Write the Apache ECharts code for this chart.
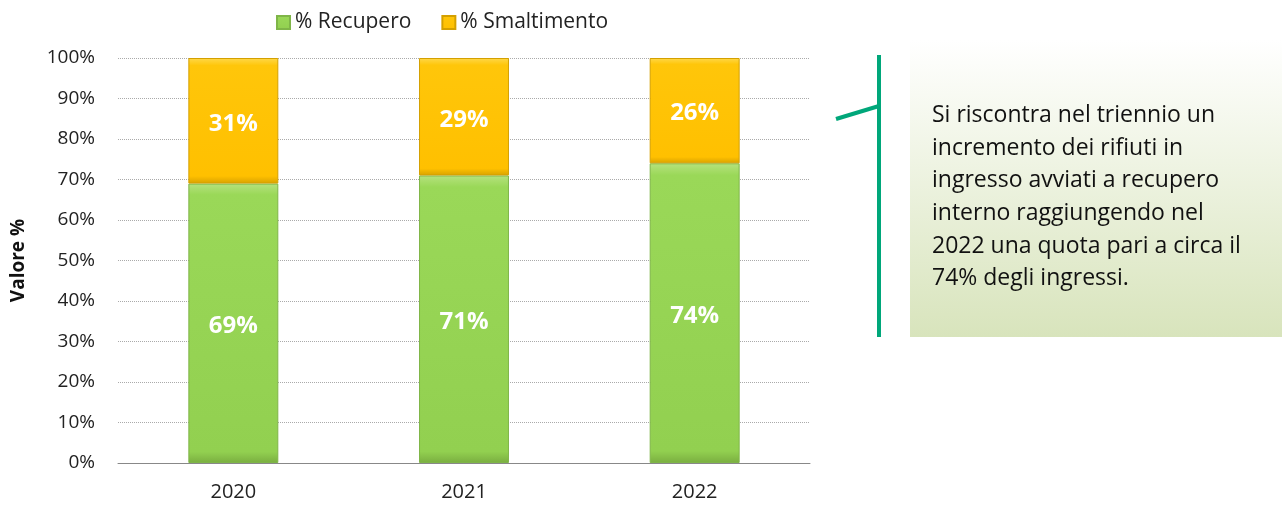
<!DOCTYPE html>
<html>
<head>
<meta charset="utf-8">
<script src="https://cdn.jsdelivr.net/npm/echarts@6/dist/echarts.min.js"></script>
<style>
  html, body { margin: 0; padding: 0; background: #fff; }
  #main { width: 1282px; height: 507px; }
</style>
</head>
<body>
<div id="main"></div>
<script>
var years = ['2020', '2021', '2022'];
var recupero = [69, 71, 74];
var smaltimento = [31, 29, 26];
var yTicks = [0, 10, 20, 30, 40, 50, 60, 70, 80, 90, 100];
var noteLines = [
    'Si riscontra nel triennio un',
    'incremento dei rifiuti in',
    'ingresso avviati a recupero',
    'interno raggiungendo nel',
    '2022 una quota pari a circa il',
    '74% degli ingressi.'
];

var font = '"Open Sans", sans-serif';

var myChart = echarts.init(document.getElementById('main'));

var option = {
    backgroundColor: '#fff',
    textStyle: { fontFamily: font },
    legend: {
        top: 7,
        left: 271,
        itemWidth: 13,
        itemHeight: 13,
        itemGap: 30,
        itemTextGap: 3,
        icon: 'rect',
        textStyle: { fontSize: 21, color: '#222', fontFamily: font },
        data: ['% Recupero', '% Smaltimento']
    },
    grid: { left: 118, right: 472, top: 58, bottom: 44 },
    xAxis: {
        type: 'category',
        data: years,
        axisTick: { show: false },
        axisLine: { lineStyle: { color: '#888' } },
        axisLabel: { fontSize: 20, color: '#222', margin: 19 }
    },
    yAxis: {
        type: 'value',
        min: yTicks[0],
        max: yTicks[yTicks.length - 1],
        interval: 10,
        name: 'Valore %',
        nameLocation: 'middle',
        nameGap: 90,
        nameTextStyle: { fontSize: 19, fontWeight: 'bold', color: '#111' },
        axisLine: { show: false },
        axisTick: { show: false },
        axisLabel: { fontSize: 19, color: '#222', margin: 23, formatter: '{value}%' },
        splitLine: { lineStyle: { color: '#aaa', type: 'dotted' } }
    },
    series: [
        {
            name: '% Recupero',
            type: 'bar',
            stack: 'tot',
            barWidth: '39%',
            data: recupero,
            itemStyle: {
                color: new echarts.graphic.LinearGradient(0, 0, 0, 1, [
                    { offset: 0, color: '#b6e27e' },
                    { offset: 0.04, color: '#9ad858' },
                    { offset: 0.96, color: '#92d050' },
                    { offset: 1, color: '#7aae40' }
                ]),
                borderColor: '#7fb548',
                borderWidth: 1
            },
            label: {
                show: true,
                position: 'inside',
                offset: [0, 3],
                color: '#fff',
                fontSize: 24,
                fontWeight: 'bold',
                formatter: '{c}%'
            }
        },
        {
            name: '% Smaltimento',
            type: 'bar',
            stack: 'tot',
            barWidth: '39%',
            data: smaltimento,
            itemStyle: {
                color: new echarts.graphic.LinearGradient(0, 0, 0, 1, [
                    { offset: 0, color: '#ffd84a' },
                    { offset: 0.06, color: '#ffc60a' },
                    { offset: 0.94, color: '#ffc000' },
                    { offset: 1, color: '#d9a200' }
                ]),
                borderColor: '#d4a000',
                borderWidth: 1
            },
            label: {
                show: true,
                position: 'inside',
                offset: [0, 3],
                color: '#fff',
                fontSize: 24,
                fontWeight: 'bold',
                formatter: '{c}%'
            }
        }
    ],
    graphic: [
        {
            type: 'rect',
            shape: { x: 910, y: 40, width: 372, height: 297 },
            style: {
                fill: new echarts.graphic.LinearGradient(0, 0, 0, 1, [
                    { offset: 0, color: '#ffffff' },
                    { offset: 1, color: '#d8e4bc' }
                ])
            },
            z: 1
        },
        {
            type: 'line',
            shape: { x1: 879, y1: 55, x2: 879, y2: 337 },
            style: { stroke: '#00a77a', lineWidth: 4 }
        },
        {
            type: 'line',
            shape: { x1: 836, y1: 119, x2: 879, y2: 106 },
            style: { stroke: '#00a77a', lineWidth: 4 }
        },
        {
            type: 'text',
            left: 932,
            top: 99,
            z: 2,
            style: {
                text: noteLines.join('\n'),
                font: '23px ' + font,
                fill: '#111',
                lineHeight: 32.7
            }
        }
    ]
};

myChart.setOption(option);
window.addEventListener('resize', function () {
    myChart.resize();
});
</script>
</body>
</html>
